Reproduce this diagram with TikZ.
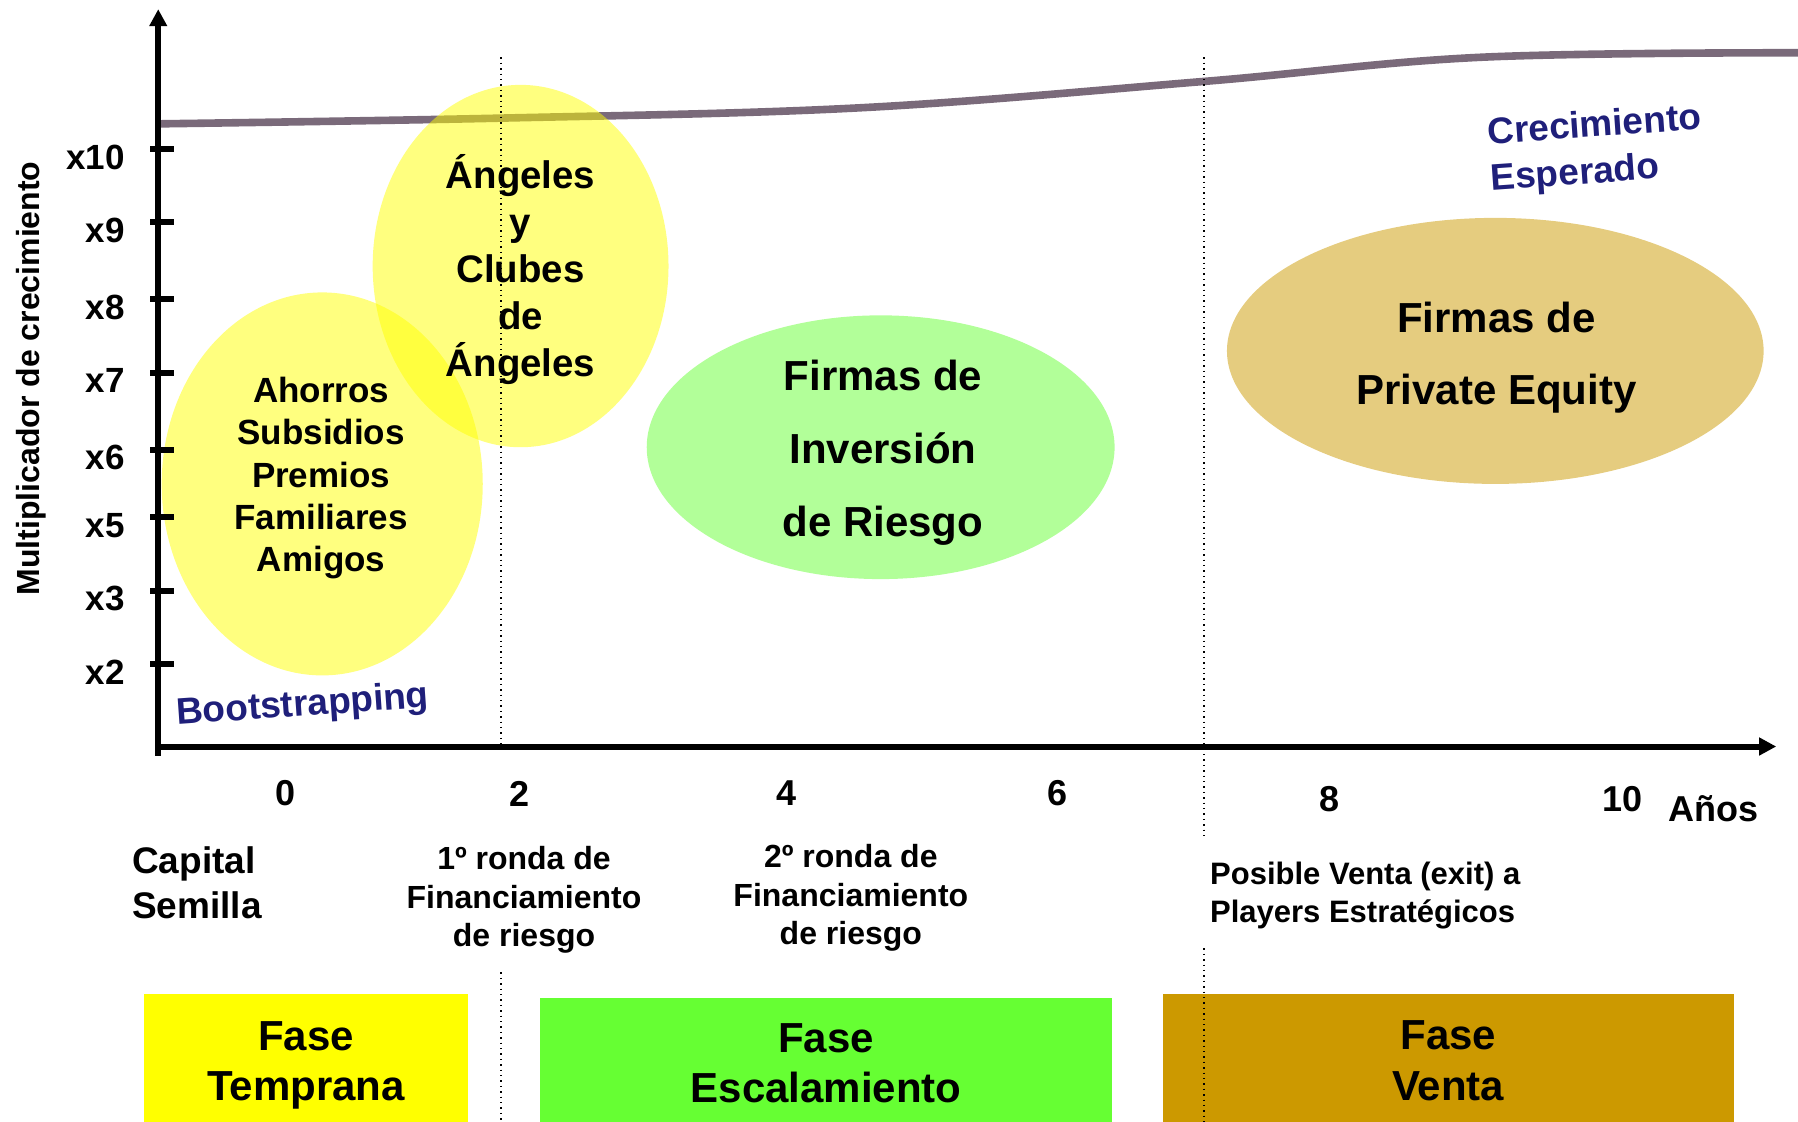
\documentclass[tikz,border=0pt]{standalone}
\usepackage{fontspec}
\setmainfont{Liberation Sans}
\usepackage{tikz}
\usetikzlibrary{arrows.meta}
\definecolor{faseYellow}{RGB}{255,255,0}
\definecolor{faseGreen}{RGB}{102,255,51}
\definecolor{faseGold}{RGB}{204,153,0}
\definecolor{navyText}{RGB}{31,31,122}
\definecolor{curveGray}{RGB}{122,106,122}
\newcommand{\fsz}[2]{\fontsize{#1}{#2}\selectfont\bfseries}

\begin{document}
\begin{tikzpicture}[x=0.5733pt,y=-0.5733pt,
		axis/.style={line width=3pt,-{Triangle[length=8.5pt,width=8.5pt]}},
		tick/.style={line width=3pt},
		guide/.style={dotted,line width=0.7pt},
		ytick/.style={inner sep=0pt,font=\fsz{17.5pt}{21pt}},
		xtick/.style={inner sep=0pt,font=\fsz{18pt}{21pt}},
		etext/.style={inner sep=0pt,align=center},
		lower/.style={inner sep=0pt,align=center},
		blue/.style={inner sep=0pt,text=navyText,font=\fsz{18.5pt}{23pt}},
		fase/.style={inner sep=0pt,align=center,font=\fsz{21pt}{25.2pt}}]
		\useasboundingbox (0,0) rectangle (1568,978);
		\clip (0,0) rectangle (1568,978);
		
		% expected growth
		\draw[curveGray,line width=3.8pt] plot[smooth,tension=0.6] coordinates {(138,108) (437,103) (750,94) (1050,71) (1290,50) (1568,46)};
		
		% investors
		\fill[faseYellow,fill opacity=.5] (281,422) ellipse [x radius=140,y radius=167];
		\fill[faseYellow,fill opacity=.5] (454,232) ellipse [x radius=129,y radius=158];
		\fill[faseGreen,fill opacity=.5] (768,390) ellipse [x radius=204,y radius=115];
		\fill[faseGold,fill opacity=.5] (1304,306) ellipse [x radius=234,y radius=116];
		
		% phases
		\node[fase,fill=faseYellow,minimum width=161.7pt,minimum height=71.1pt] (temprana) at (267,929) {Fase\\Temprana};
		\node[fase,fill=faseGreen,minimum width=286.1pt,minimum height=65.4pt] (escalamiento) at (720.5,927) {Fase\\Escalamiento};
		\node[fase,fill=faseGold,minimum width=285.5pt,minimum height=66.5pt] (venta) at (1263,925) {Fase\\Venta};
		
		\draw[guide] (437,50) -- (437,657);
		\draw[guide] (437,848) -- (437,978);
		\draw[guide] (1050,50) -- (1050,731);
		\draw[guide] (1050,827) -- (1050,978);
		
		% axes
		\coordinate (origin) at (138,651);
		\coordinate (ytop) at (138,8);
		\coordinate (xend) at (1549,651);
		\draw[axis] (138,659) -- (ytop);
		\draw[axis] (origin) -- (xend);
		\foreach \lab/\yy in {x10/130,x9/194,x8/261,x7/325,x6/392,x5/451,x3/515,x2/579}{
			\draw[tick] (131,\yy) -- (152,\yy);
			\node[ytick,anchor=east] (\lab) at (109,\yy+7) {\lab};
		}
		\foreach \yr/\xx/\yy in {0/249/692,2/453/692,4/686/692,6/922/692,8/1159/697,10/1415/697}
			\node[xtick] (yr\yr) at (\xx,\yy) {\yr};
		\node[xtick] (anos) at (1494,705) {Años};
		\node[inner sep=0pt,rotate=90,font=\fsz{16pt}{19pt}] (ylabel) at (27,330) {Multiplicador de crecimiento};
		
		\node[etext,font=\fsz{17.5pt}{21.2pt}] (fondos) at (280,417) {Ahorros\\Subsidios\\Premios\\Familiares\\Amigos};
		\node[etext,font=\fsz{19.2pt}{23.5pt}] (angeles) at (454,235) {Ángeles\\y\\Clubes\\de\\Ángeles};
		\node[etext,font=\fsz{21pt}{36.4pt}] (riesgo) at (770,395) {Firmas de\\Inversión\\de Riesgo};
		\node[etext,font=\fsz{21pt}{36.1pt}] (equity) at (1305,312) {Firmas de\\Private Equity};
		
		\node[blue,rotate=4] (boot) at (264,616) {Bootstrapping};
		\node[blue,align=left,rotate=4] (crec) at (1392,131) {Crecimiento\\Esperado};
		
		\node[lower,align=left,anchor=west,font=\fsz{18.5pt}{22.4pt}] (semilla) at (115,770) {Capital\\Semilla};
		\node[lower,font=\fsz{16pt}{19.2pt}] (ronda1) at (457,785) {1º ronda de\\Financiamiento\\de riesgo};
		\node[lower,font=\fsz{16pt}{19.2pt}] (ronda2) at (742,783) {2º ronda de\\Financiamiento\\de riesgo};
		\node[lower,align=left,anchor=west,font=\fsz{15.5pt}{19pt}] (exit) at (1055,781) {Posible Venta (exit) a\\Players Estratégicos};
	\end{tikzpicture}
\end{document}
